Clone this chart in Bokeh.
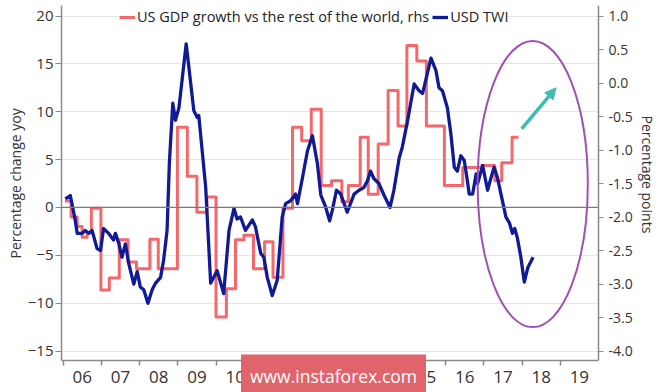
from bokeh.plotting import figure
from bokeh.models import (LinearAxis, Range1d, FixedTicker, Span, Legend, LegendItem,
                          Label, Title, Arrow, NormalHead, NumeralTickFormatter)
from bokeh.embed import file_html
from bokeh.resources import INLINE

# ---------------- data ----------------
usd_dates = [2006.06, 2006.19, 2006.32, 2006.37, 2006.50, 2006.58, 2006.67, 2006.76, 2006.89, 2006.98,
             2007.06, 2007.19, 2007.32, 2007.37, 2007.46, 2007.54, 2007.63, 2007.72, 2007.85, 2007.94,
             2008.02, 2008.11, 2008.22, 2008.33, 2008.42, 2008.55, 2008.63, 2008.72, 2008.78, 2008.87,
             2008.94, 2009.03, 2009.22, 2009.42, 2009.51, 2009.55, 2009.73, 2009.86, 2010.03, 2010.20,
             2010.34, 2010.47, 2010.55, 2010.64, 2010.77, 2010.95, 2011.03, 2011.17, 2011.25, 2011.34,
             2011.47, 2011.60, 2011.73, 2011.82, 2011.95, 2012.08, 2012.13, 2012.26, 2012.39, 2012.52,
             2012.65, 2012.74, 2012.87, 2012.97, 2013.04, 2013.15, 2013.26, 2013.43, 2013.61, 2013.74,
             2013.87, 2013.96, 2014.04, 2014.13, 2014.26, 2014.39, 2014.55, 2014.65, 2014.79, 2014.87,
             2015.01, 2015.18, 2015.31, 2015.40, 2015.62, 2015.75, 2015.83, 2015.92, 2016.05, 2016.14,
             2016.23, 2016.31, 2016.40, 2016.49, 2016.56, 2016.62, 2016.71, 2016.80, 2016.84, 2016.97,
             2017.10, 2017.19, 2017.27, 2017.36, 2017.45, 2017.58, 2017.67, 2017.75, 2017.81, 2017.88,
             2017.97, 2018.06, 2018.15, 2018.29]
usd_twi = [0.9, 1.25, -1.35, -2.7, -2.7, -2.4, -2.7, -2.4, -4.3, -4.5,
           -2.2, -2.7, -3.4, -2.7, -3.8, -5.2, -3.8, -5.9, -8.0, -6.7,
           -8.3, -8.6, -10.0, -8.6, -7.9, -7.3, -5.5, -2.4, 4.6, 10.9,
           9.1, 10.4, 17.1, 10.1, 9.4, 9.6, 2.1, -7.9, -6.6, -9.0,
           -2.4, -0.1, -1.2, -1.0, -2.4, -1.3, -2.0, -4.8, -5.2, -7.3,
           -9.2, -7.6, -1.0, 0.4, 0.7, 1.4, 0.4, 3.1, 5.9, 7.5,
           4.6, 1.3, 0.0, -1.4, -0.3, 1.8, 1.4, -0.5, 1.4, 1.8,
           2.1, 2.8, 3.8, 3.0, 2.5, 1.3, 0.0, 1.8, 5.2, 6.3,
           9.1, 12.9, 12.2, 11.9, 15.6, 14.3, 12.5, 12.2, 10.4, 7.7,
           4.2, 3.8, 5.4, 4.9, 3.1, 1.4, 1.4, 3.5, 2.5, 4.4,
           1.8, 3.1, 4.2, 3.1, 1.4, -1.0, -1.6, -2.7, -2.2, -3.2,
           -5.2, -7.8, -6.3, -5.2]

gdp_dates = [2006.05, 2006.21, 2006.37, 2006.50, 2006.63, 2006.74, 2006.99, 2007.21, 2007.47, 2007.70,
             2007.92, 2008.27, 2008.49, 2008.99, 2009.25, 2009.50, 2009.76, 2010.00, 2010.27, 2010.51,
             2010.73, 2010.98, 2011.27, 2011.49, 2011.75, 2012.00, 2012.24, 2012.49, 2012.75, 2013.02,
             2013.29, 2013.46, 2013.77, 2013.98, 2014.24, 2014.50, 2014.76, 2014.99, 2015.25, 2015.50,
             2015.97, 2016.45, 2016.95, 2017.29, 2017.47, 2017.74, 2017.91]
gdp_diff = [-1.76, -2.00, -2.14, -2.30, -2.24, -1.87, -3.09, -2.91, -2.34, -2.67,
            -2.77, -2.33, -2.77, -0.66, -1.39, -1.93, -1.70, -3.49, -3.07, -2.34,
            -2.27, -2.77, -2.37, -2.90, -1.87, -0.66, -0.86, -0.39, -1.53, -1.46,
            -1.77, -1.53, -0.81, -1.66, -0.91, -0.11, -0.64, 0.56, 0.33, -0.64,
            -1.53, -1.26, -1.23, -1.46, -1.19, -0.81, -0.81]

years = list(range(2006, 2020))
year_labels = ["06", "07", "08", "09", "10", "11", "12", "13", "14", "15", "16", "17", "18", "19"]
left_ticks = [-15, -10, -5, 0, 5, 10, 15, 20]
right_ticks = [1.0, 0.5, 0.0, -0.5, -1.0, -1.5, -2.0, -2.5, -3.0, -3.5, -4.0]

series_labels = ["US GDP growth vs the rest of the world, rhs", "USD TWI"]
left_title = "Percentage change yoy"
right_title = "Percentage points"
watermark = "www.instaforex.com"

# ---------------- style ----------------
FONT = "Open Sans"
BLUE = "#101a96"
RED = "#f4676a"
AXIS = "#8a8a8a"
TXT = "#333333"

y_lo, y_hi = -15.99, 21.1       # extent of the plotted area (x-axis line to top)
y_pad = -19.33                  # frame continues below the x axis for its labels
r0 = 1.0 - 20.0 / 7.0           # right-axis value at left-axis 0 (7:1 scale)

p = figure(width=665, height=392, x_range=Range1d(2005.96, 2020.0),
           y_range=Range1d(y_pad, y_hi), output_backend="svg", toolbar_location=None,
           min_border_left=61, min_border_right=67, min_border_top=5, min_border_bottom=0)
p.extra_y_ranges = {"right": Range1d(y_pad / 7 + r0, y_hi / 7 + r0)}
p.outline_line_color = None
p.background_fill_color = "white"
p.border_fill_color = "white"

# grid
p.xgrid.visible = False
p.ygrid.ticker = FixedTicker(ticks=left_ticks)
p.ygrid.grid_line_color = "#e6e6e6"
p.ygrid.grid_line_width = 1

# left axis
ya = p.yaxis[0]
ya.ticker = FixedTicker(ticks=left_ticks)
ya.bounds = (y_lo, y_hi)
ya.major_label_text_font = FONT
ya.major_label_text_font_size = "15px"
ya.major_label_text_color = TXT
ya.major_label_standoff = 2
ya.axis_line_color = AXIS
ya.axis_line_width = 1.5
ya.major_tick_line_color = AXIS
ya.major_tick_out = 6
ya.major_tick_in = 0
ya.minor_tick_line_color = None

# bottom axis (drawn at the foot of the plotted area)
xa = p.xaxis[0]
xa.fixed_location = y_lo
xa.ticker = FixedTicker(ticks=[y + 0.5 for y in years], minor_ticks=years)
xa.major_label_overrides = {y + 0.5: lab for y, lab in zip(years, year_labels)}
xa.major_label_text_font = FONT
xa.major_label_text_font_size = "17px"
xa.major_label_text_color = TXT
xa.major_label_standoff = 5
xa.major_tick_line_color = None
xa.major_tick_out = 0
xa.major_tick_in = 0
xa.minor_tick_line_color = AXIS
xa.minor_tick_line_width = 1.5
xa.minor_tick_out = 5
xa.minor_tick_in = 0
xa.axis_line_color = AXIS
xa.axis_line_width = 1.5

# right axis
ra = LinearAxis(y_range_name="right", ticker=FixedTicker(ticks=right_ticks),
                formatter=NumeralTickFormatter(format="0.0"))
ra.bounds = (y_lo / 7 + r0, y_hi / 7 + r0)
ra.major_label_text_font = FONT
ra.major_label_text_font_size = "14px"
ra.major_label_text_color = TXT
ra.major_label_standoff = 5
ra.axis_line_color = AXIS
ra.axis_line_width = 1.5
ra.major_tick_line_color = AXIS
ra.major_tick_out = 5
ra.major_tick_in = 0
ra.minor_tick_line_color = None
p.add_layout(ra, "right")

# axis titles as side titles (anchored at their start, offset along the axis)
p.add_layout(Title(text=left_title, align="left", offset=134, standoff=0,
                   text_font=FONT, text_font_size="14px", text_font_style="normal",
                   text_color=TXT), "left")
p.add_layout(Title(text=right_title, align="left", offset=110, standoff=4,
                   text_font=FONT, text_font_size="14px", text_font_style="normal",
                   text_color=TXT), "right")

# zero line
p.add_layout(Span(location=0, dimension="width", line_color="#7a7a7a", line_width=1.3))

# series
red = p.step(gdp_dates, gdp_diff, mode="after", y_range_name="right",
             line_color=RED, line_width=3, line_join="round")
blue = p.line(usd_dates, usd_twi, line_color=BLUE, line_width=3.3, line_join="round")

# annotations (circle + arrow)
p.ellipse(x=[2018.28], y=[2.45], width=[2.88], height=[29.9],
          fill_color=None, line_color="#a24fb5", line_width=2)
p.add_layout(Arrow(x_start=2017.99, y_start=8.2, x_end=2018.89, y_end=12.5,
                   line_color="#3dbcb2", line_width=3.5,
                   end=NormalHead(size=11, fill_color="#3dbcb2", line_color="#3dbcb2")))

# legend
legend = Legend(items=[LegendItem(label=series_labels[0], renderers=[red]),
                       LegendItem(label=series_labels[1], renderers=[blue])],
                orientation="horizontal", location=(58, 366))
legend.label_text_font = FONT
legend.label_text_font_size = "14.5px"
legend.label_text_color = "#222222"
legend.glyph_width = 16
legend.glyph_height = 14
legend.label_standoff = 2
legend.spacing = 3
legend.padding = 2
legend.margin = 0
legend.border_line_color = None
legend.background_fill_color = "white"
legend.background_fill_alpha = 1.0
p.add_layout(legend)

# watermark
p.add_layout(Label(x=272, y=17, x_units="screen", y_units="screen",
                   text=watermark, text_align="center", text_baseline="middle",
                   text_font=FONT, text_font_size="17.5px", text_color="white",
                   background_fill_color="#e0646b", background_fill_alpha=1.0,
                   padding=9))

open("out.html", "w").write(file_html(p, INLINE))
